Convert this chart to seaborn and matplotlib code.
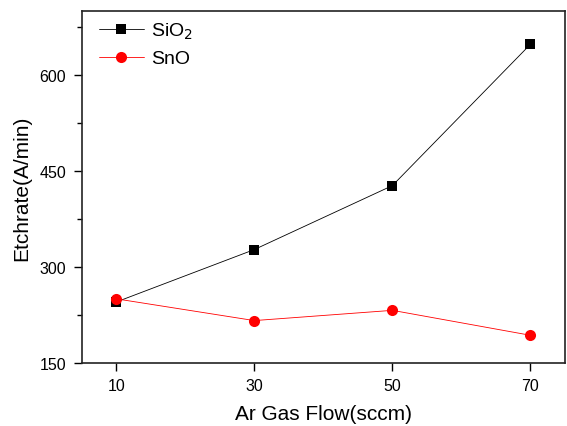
import matplotlib
matplotlib.use("Agg")
import matplotlib.pyplot as plt
import seaborn as sns
import pandas as pd
from matplotlib.ticker import MultipleLocator

gas_flow = [10, 30, 50, 70]
sio2 = [245, 327, 427, 648]
sno = [250, 216, 232, 193]

sns.set_theme(style="white")
plt.rcParams['font.family'] = ['Liberation Sans', 'DejaVu Sans']
plt.rcParams['text.color'] = 'black'
plt.rcParams['axes.labelcolor'] = 'black'
plt.rcParams['xtick.color'] = 'black'
plt.rcParams['ytick.color'] = 'black'

df = pd.concat([
    pd.DataFrame({"flow": gas_flow, "rate": sio2, "series": "SiO$_2$"}),
    pd.DataFrame({"flow": gas_flow, "rate": sno, "series": "SnO"}),
])

fig = plt.figure(figsize=(5.67, 4.27), dpi=100)
ax = fig.add_axes([0.144, 0.148, 0.8525, 0.824])

sns.lineplot(data=df, x="flow", y="rate", hue="series", style="series",
             palette={"SiO$_2$": "black", "SnO": "red"},
             markers={"SiO$_2$": "s", "SnO": "o"}, dashes=False,
             markersize=7, linewidth=0.6, markeredgewidth=0, ax=ax)
for line in ax.lines:
    if line.get_marker() == "o":
        line.set_markersize(8)
    else:
        line.set_markersize(6.5)

ax.set_xlim(5, 75)
ax.set_ylim(150, 700)
ax.set_xticks(gas_flow)
ax.yaxis.set_major_locator(MultipleLocator(150))
ax.yaxis.set_minor_locator(MultipleLocator(75))
ax.tick_params(axis="both", which="major", direction="out", length=6, width=1,
               labelsize=11.5, left=True, bottom=True, color="black",
               labelcolor="black", pad=5)
ax.tick_params(axis="y", which="minor", direction="out", length=3.5, width=1,
               left=True, color="black")
for s in ax.spines.values():
    s.set_color("#222222")
    s.set_linewidth(1.2)

ax.set_xlabel("Ar Gas Flow(sccm)", fontsize=15, labelpad=8, color="black")
ax.set_ylabel("Etchrate(A/min)", fontsize=15, labelpad=6, color="black")

leg = ax.legend(loc="upper left", bbox_to_anchor=(0.016, 1.0), frameon=False,
                fontsize=14, handlelength=2.3, borderaxespad=0.2,
                labelspacing=0.45, handletextpad=0.35, borderpad=0.3)
for h in leg.legend_handles:
    if h.get_marker() == "o":
        h.set_markersize(8)
    else:
        h.set_markersize(6.5)

fig.savefig("out.png", dpi=100)
